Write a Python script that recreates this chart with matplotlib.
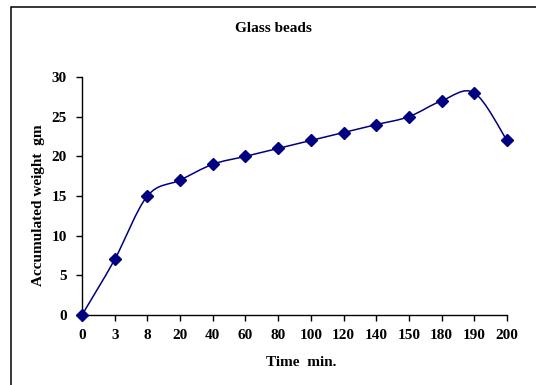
import numpy as np
import matplotlib
matplotlib.use("Agg")
import matplotlib.pyplot as plt
from matplotlib.path import Path
from matplotlib.patches import PathPatch, Rectangle

# Sampling times (minutes) and accumulated weight (gm)
time_labels = ["0", "3", "8", "20", "40", "60", "80", "100", "120",
               "140", "150", "180", "190", "200"]
weight = [0, 7, 15, 17, 19, 20, 21, 22, 23, 24, 25, 27, 28, 22]
y_ticks = [0, 5, 10, 15, 20, 25, 30]

plt.rcParams["font.family"] = ["Liberation Serif", "DejaVu Serif"]
plt.rcParams["font.weight"] = "bold"

W, H = 536, 385
fig = plt.figure(figsize=(W / 100, H / 100), dpi=100)
fig.patch.set_facecolor("white")

# Outer chart frame (left and top edges visible)
fig.patches.append(Rectangle((11 / W, -0.1), 1.2, 1.1 - 7 / H,
                             transform=fig.transFigure, fill=False,
                             edgecolor="black", linewidth=1.1))

left, right, bottom, top = 82, 507, 315, 77
ax = fig.add_axes([left / W, 1 - bottom / H, (right - left) / W, (bottom - top) / H])
ax.set_facecolor("none")

x = np.arange(len(time_labels), dtype=float)
y = np.array(weight, dtype=float)

# Smoothed curve through the points using cubic Bezier segments
verts = [(x[0], y[0])]
codes = [Path.MOVETO]
n = len(x)
for i in range(n - 1):
    p0 = np.array([x[max(i - 1, 0)], y[max(i - 1, 0)]])
    p1 = np.array([x[i], y[i]])
    p2 = np.array([x[i + 1], y[i + 1]])
    p3 = np.array([x[min(i + 2, n - 1)], y[min(i + 2, n - 1)]])
    c1 = p1 + (p2 - p0) / 6.0
    c2 = p2 - (p3 - p1) / 6.0
    verts += [tuple(c1), tuple(c2), tuple(p2)]
    codes += [Path.CURVE4] * 3
ax.add_patch(PathPatch(Path(verts, codes), facecolor="none",
                       edgecolor="#000080", linewidth=1.1, zorder=2))
ax.plot(x, y, linestyle="none", marker="D", markersize=6.5,
        color="#000080", zorder=3, clip_on=False)

ax.set_xlim(0, n - 1)
ax.set_ylim(0, 30)
ax.set_xticks(x)
ax.set_xticklabels(time_labels)
ax.set_yticks(y_ticks)
ax.set_yticklabels([str(v) for v in y_ticks])

for s in ("top", "right"):
    ax.spines[s].set_visible(False)
for s in ("left", "bottom"):
    ax.spines[s].set_linewidth(1.0)
    ax.spines[s].set_color("black")

ax.tick_params(axis="both", direction="out", length=4, width=1.0,
               labelsize=11, colors="black")
ax.tick_params(axis="x", pad=6)
ax.tick_params(axis="y", pad=7)
for lbl in ax.get_xticklabels() + ax.get_yticklabels():
    lbl.set_fontweight("bold")

fig.text(273 / W, 1 - 29 / H, "Glass beads", ha="center", va="center",
         fontsize=11, fontweight="bold")
fig.text(301 / W, 1 - 362 / H, "Time  min.", ha="center", va="center",
         fontsize=11, fontweight="bold")
fig.text(39 / W, 1 - 205 / H, "Accumulated weight  gm", ha="center",
         va="center", rotation=90, fontsize=11, fontweight="bold")

fig.savefig("out.png", dpi=100, facecolor="white")
